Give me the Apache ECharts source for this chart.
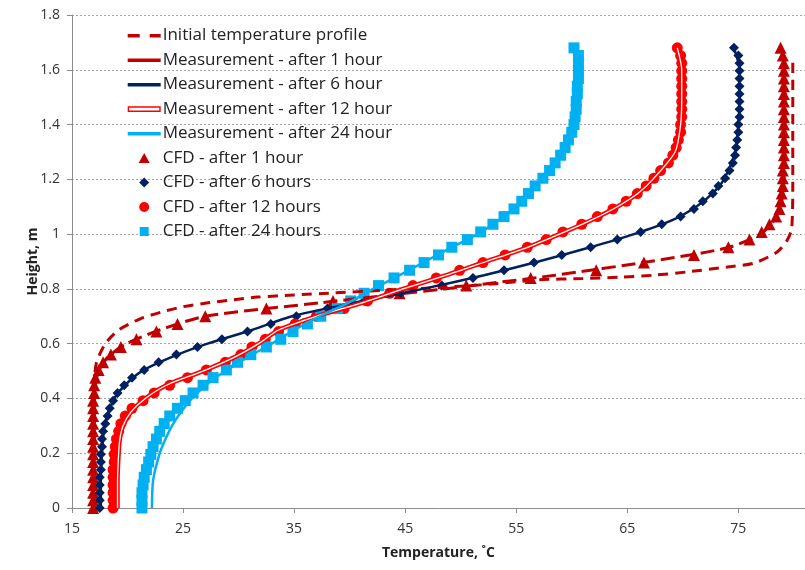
<!DOCTYPE html>
<html>
<head>
<meta charset="utf-8">
<script src="https://cdn.jsdelivr.net/npm/echarts@6/dist/echarts.min.js"></script>
<style>
  html, body { margin: 0; padding: 0; background: #fff; }
  #chart { width: 805px; height: 570px; }
</style>
</head>
<body>
<div id="chart"></div>
<script>
// Initial profile (dashed)
const initHeights = [0, 0.45, 0.53, 0.6, 0.65, 0.69, 0.715, 0.735, 0.75, 0.76, 0.77, 0.778, 0.785, 0.795, 0.805, 0.815,
  0.833, 0.838, 0.843, 0.85, 0.862, 0.88, 0.894, 0.935, 0.978, 1.02, 1.2, 1.4, 1.65];
const initTemps = [17.0, 17.0, 17.2, 18.0, 19.2, 21.1, 23.0, 25.0, 27.4, 29.5, 31.7, 35.0, 38.5, 43.0, 48.0, 52.0,
  57.0, 61.0, 64.4, 67.4, 70.4, 74.0, 76.4, 78.5, 79.4, 79.8, 79.9, 79.9, 79.9];

// Measurement heights and temperatures
const measHeights = [0, 0.1, 0.2, 0.25, 0.3, 0.35, 0.4, 0.45, 0.5, 0.55, 0.6, 0.65, 0.7, 0.75, 0.8,
  0.85, 0.9, 0.95, 1.0, 1.05, 1.1, 1.15, 1.2, 1.3, 1.4, 1.5, 1.6, 1.68];
const meas1h = [17.0, 17.0, 17.0, 17.0, 17.0, 17.0, 17.0, 17.1, 17.4, 18.2, 19.9, 22.9, 27.0, 37.5, 48.5,
  58.5, 67.0, 74.0, 77.0, 78.2, 78.8, 79.0, 79.1, 79.2, 79.2, 79.2, 79.1, 79.0];
const meas6h = [17.6, 17.6, 17.7, 17.8, 17.9, 18.3, 18.8, 19.8, 21.3, 23.9, 27.2, 31.2, 34.8, 40.5, 46.6,
  52.1, 57.0, 61.5, 65.6, 69.0, 71.2, 72.7, 73.7, 74.7, 75.0, 75.1, 75.1, 74.6];
const meas12h = [19.1, 19.1, 19.2, 19.3, 19.6, 20.3, 21.6, 23.6, 26.8, 29.6, 31.8, 33.6, 37.0, 41.2, 44.8,
  48.7, 52.3, 55.9, 58.9, 61.7, 64.1, 66.0, 67.3, 69.3, 69.8, 69.9, 69.9, 69.5];
const meas24h = [22.2, 22.3, 22.9, 23.4, 24.0, 24.8, 25.8, 27.1, 28.8, 30.8, 33.0, 35.0, 37.3, 39.9, 42.1,
  44.5, 46.8, 49.1, 51.5, 53.4, 55.0, 56.2, 57.3, 59.2, 60.2, 60.5, 60.6, 60.2];

// CFD heights and temperatures
const cfdHeights = [0, 0.028, 0.056, 0.084, 0.112, 0.14, 0.168, 0.196, 0.224, 0.252,
  0.28, 0.308, 0.336, 0.364, 0.392, 0.42, 0.448, 0.476, 0.504, 0.532,
  0.56, 0.588, 0.616, 0.644, 0.672, 0.7, 0.728, 0.756, 0.784, 0.812,
  0.84, 0.868, 0.896, 0.924, 0.952, 0.98, 1.008, 1.036, 1.064, 1.092,
  1.12, 1.148, 1.176, 1.204, 1.232, 1.26, 1.288, 1.316, 1.344, 1.372,
  1.4, 1.428, 1.456, 1.484, 1.512, 1.54, 1.568, 1.596, 1.624, 1.652, 1.68];
const cfd1h = [16.9, 16.9, 16.9, 16.9, 16.9, 16.9, 16.9, 16.9, 16.9, 16.9,
  16.9, 16.9, 16.9, 16.9, 16.9, 17.0, 17.0, 17.1, 17.4, 17.8,
  18.5, 19.4, 20.8, 22.6, 24.5, 27.0, 32.5, 38.5, 44.5, 50.5,
  56.3, 62.2, 66.5, 71.0, 74.1, 76.0, 77.1, 77.8, 78.4, 78.7,
  78.8, 78.9, 79.0, 79.0, 79.0, 79.1, 79.1, 79.1, 79.1, 79.1,
  79.1, 79.1, 79.1, 79.1, 79.1, 79.1, 79.1, 79.1, 79.1, 79.0, 78.8];
const cfd6h = [17.5, 17.5, 17.5, 17.5, 17.5, 17.6, 17.6, 17.6, 17.7, 17.7,
  17.8, 18.0, 18.2, 18.4, 18.7, 19.1, 19.7, 20.4, 21.5, 22.8,
  24.4, 26.3, 28.5, 30.8, 32.9, 35.2, 38.0, 41.3, 44.6, 48.3,
  51.1, 53.9, 56.6, 59.1, 61.7, 64.1, 66.2, 68.1, 69.8, 71.0,
  71.8, 72.7, 73.2, 73.8, 74.2, 74.5, 74.7, 74.8, 74.9, 75.0,
  75.0, 75.1, 75.1, 75.1, 75.1, 75.1, 75.1, 75.1, 75.1, 75.0, 74.6];
const cfd12h = [18.7, 18.7, 18.7, 18.7, 18.7, 18.7, 18.8, 18.8, 18.9, 19.0,
  19.2, 19.4, 19.8, 20.4, 21.4, 22.4, 23.8, 25.4, 27.1, 28.8,
  30.2, 31.2, 32.4, 33.6, 35.1, 37.0, 39.5, 41.6, 43.6, 45.7,
  47.8, 49.9, 52.0, 54.0, 56.0, 57.7, 59.2, 60.9, 62.3, 63.7,
  64.9, 65.9, 66.7, 67.4, 68.0, 68.7, 69.1, 69.4, 69.6, 69.8,
  69.8, 69.9, 69.9, 69.9, 69.9, 69.9, 69.9, 69.9, 69.9, 69.8, 69.5];
const cfd24h = [21.3, 21.3, 21.3, 21.4, 21.5, 21.7, 21.9, 22.1, 22.3, 22.6,
  22.9, 23.3, 23.8, 24.5, 25.2, 25.9, 26.8, 27.7, 28.9, 29.9,
  31.1, 32.5, 33.8, 34.9, 36.2, 37.4, 38.9, 40.1, 41.3, 42.6,
  44.0, 45.4, 46.7, 48.0, 49.2, 50.6, 51.8, 52.9, 53.9, 54.8,
  55.5, 56.1, 56.7, 57.4, 58.0, 58.5, 59.0, 59.4, 59.7, 60.0,
  60.2, 60.3, 60.4, 60.4, 60.5, 60.5, 60.6, 60.6, 60.6, 60.6, 60.2];

const DARK_RED = '#C00000';
const NAVY = '#002060';
const RED = '#FF0000';
const SKY = '#00B0F0';
const FONT = '"Open Sans", Lato, sans-serif';

function pairs(heights, temps) {
  return heights.map((h, i) => [temps[i], h]);
}

// legend icons drawn inside a 33x11 box (the stray moves pin the box size)
const BOX = 'path://M0,0 M33,11 ';
const barIcon = BOX + 'M0,4 L33,4 L33,7.5 L0,7.5 Z';
const dashIcon = BOX + 'M0,4 L12,4 L12,7.5 L0,7.5 Z M22,4 L33,4 L33,7.5 L22,7.5 Z';
const hollowIcon = BOX + 'M0.7,3.5 L32.3,3.5 L32.3,7.8 L0.7,7.8 Z';
const triIcon = BOX + 'M16.5,0.5 L22,10.5 L11,10.5 Z';
const diaIcon = BOX + 'M16.5,0.5 L21.5,5.5 L16.5,10.5 L11.5,5.5 Z';
const dotIcon = BOX + 'M16.5,0.5 A5,5 0 1 1 16.49,0.5 Z';
const sqIcon = BOX + 'M12,1 L21,1 L21,10 L12,10 Z';

const chart = echarts.init(document.getElementById('chart'), null, { renderer: 'canvas' });

function lineSeries(name, data, color, width, type) {
  return {
    name: name,
    type: 'line',
    data: data,
    symbol: 'none',
    smooth: 0.25,
    lineStyle: { color: color, width: width, type: type || 'solid' },
    itemStyle: { color: color },
    emphasis: { disabled: true },
    silent: true
  };
}

function cfdSeries(name, temps, color, symbol, size) {
  return {
    name: name,
    type: 'scatter',
    data: pairs(cfdHeights, temps),
    symbol: symbol,
    symbolSize: size,
    itemStyle: { color: color, opacity: 1 },
    emphasis: { disabled: true },
    silent: true
  };
}

function legendItem(name, icon, color) {
  return { name: name, icon: icon, itemStyle: { color: color, borderWidth: 0 } };
}

const option = {
  animation: false,
  backgroundColor: '#fff',
  textStyle: { fontFamily: FONT },
  grid: { left: 72, right: 0, top: 15, bottom: 62 },
  legend: {
    orient: 'vertical',
    left: 122,
    top: 22,
    itemWidth: 33,
    itemHeight: 11,
    itemGap: 7.5,
    textStyle: { fontFamily: FONT, fontSize: 17, color: '#222', padding: [0, 0, 0, -3] },
    data: [
      legendItem('Initial temperature profile', dashIcon, DARK_RED),
      legendItem('Measurement - after 1 hour', barIcon, DARK_RED),
      legendItem('Measurement - after 6 hour', barIcon, NAVY),
      { name: 'Measurement - after 12 hour', icon: hollowIcon, itemStyle: { color: '#fff', borderColor: RED, borderWidth: 1.4 } },
      legendItem('Measurement - after 24 hour', barIcon, SKY),
      legendItem('CFD - after 1 hour', triIcon, DARK_RED),
      legendItem('CFD - after 6 hours', diaIcon, NAVY),
      legendItem('CFD - after 12 hours', dotIcon, RED),
      legendItem('CFD - after 24 hours', sqIcon, SKY)
    ]
  },
  xAxis: {
    type: 'value',
    min: 15,
    max: 81,
    interval: 10,
    name: 'Temperature, ˚C',
    nameLocation: 'middle',
    nameGap: 38,
    nameMoveOverlap: false,
    nameTextStyle: { fontFamily: FONT, fontSize: 14, fontWeight: 'bold', color: '#222' },
    axisLine: { show: true, lineStyle: { color: '#8C8C8C', width: 1 } },
    axisTick: { show: true, length: 5, lineStyle: { color: '#8C8C8C' } },
    axisLabel: { fontFamily: FONT, fontSize: 14, color: '#333', margin: 14, showMaxLabel: false },
    splitLine: { show: false }
  },
  yAxis: {
    type: 'value',
    min: 0,
    max: 1.8,
    interval: 0.2,
    name: 'Height, m',
    nameLocation: 'middle',
    nameGap: 32,
    nameMoveOverlap: false,
    nameRotate: 90,
    nameTextStyle: { fontFamily: FONT, fontSize: 14, fontWeight: 'bold', color: '#222' },
    axisLine: { show: true, lineStyle: { color: '#8C8C8C', width: 1 } },
    axisTick: { show: true, length: 5, lineStyle: { color: '#8C8C8C' } },
    axisLabel: { fontFamily: FONT, fontSize: 14, color: '#333', margin: 12 },
    splitLine: { show: true, lineStyle: { color: '#A6A6A6', type: [2, 2], width: 1 } }
  },
  series: [
    lineSeries('Initial temperature profile', pairs(initHeights, initTemps), DARK_RED, 3, [10, 7]),
    lineSeries('Measurement - after 1 hour', pairs(measHeights, meas1h), DARK_RED, 3, [14, 6]),
    lineSeries('Measurement - after 6 hour', pairs(measHeights, meas6h), NAVY, 2.5),
    lineSeries('Measurement - after 12 hour', pairs(measHeights, meas12h), RED, 4.5),
    lineSeries('m12core', pairs(measHeights, meas12h), '#fff', 1.3),
    lineSeries('Measurement - after 24 hour', pairs(measHeights, meas24h), SKY, 2.5),
    cfdSeries('CFD - after 1 hour', cfd1h, DARK_RED, 'triangle', 12),
    cfdSeries('CFD - after 6 hours', cfd6h, NAVY, 'diamond', 10),
    cfdSeries('CFD - after 12 hours', cfd12h, RED, 'circle', 11),
    cfdSeries('CFD - after 24 hours', cfd24h, SKY, 'rect', 11)
  ]
};

chart.setOption(option);
window.addEventListener('resize', () => chart.resize());
</script>
</body>
</html>
